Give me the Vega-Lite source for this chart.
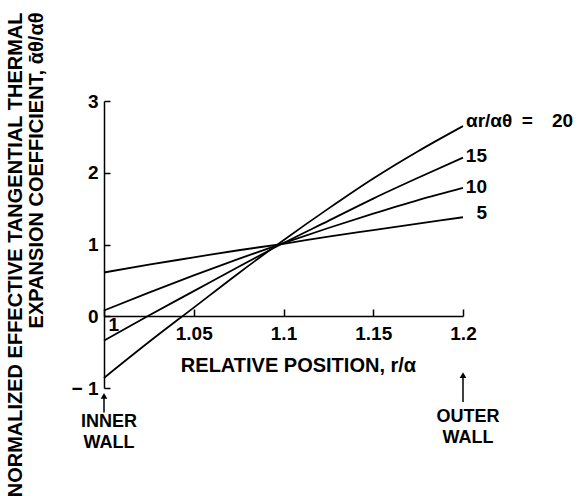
{
  "$schema": "https://vega.github.io/schema/vega-lite/v6.json",
  "width": 359,
  "height": 287,
  "autosize": "none",
  "padding": {"left": 104, "top": 101, "right": 121, "bottom": 108},
  "background": "white",
  "config": {
    "view": {"stroke": null},
    "font": "Liberation Sans",
    "axis": {
      "grid": false,
      "domainColor": "black",
      "domainWidth": 1.5,
      "tickColor": "black",
      "tickWidth": 1.5,
      "labelColor": "black",
      "labelFont": "Liberation Sans",
      "labelFontSize": 19,
      "labelFontWeight": "bold",
      "titleColor": "black",
      "titleFont": "Liberation Sans",
      "titleFontSize": 20,
      "titleFontWeight": "bold"
    }
  },
  "datasets": {
    "curves": [
      {"ratio": 20, "r": 1.0, "v": -0.86}, {"ratio": 20, "r": 1.025, "v": -0.36}, {"ratio": 20, "r": 1.05, "v": 0.12}, {"ratio": 20, "r": 1.075, "v": 0.6}, {"ratio": 20, "r": 1.1, "v": 1.06}, {"ratio": 20, "r": 1.125, "v": 1.5}, {"ratio": 20, "r": 1.15, "v": 1.92}, {"ratio": 20, "r": 1.175, "v": 2.3}, {"ratio": 20, "r": 1.2, "v": 2.65},
      {"ratio": 15, "r": 1.0, "v": -0.34}, {"ratio": 15, "r": 1.025, "v": 0.01}, {"ratio": 15, "r": 1.05, "v": 0.35}, {"ratio": 15, "r": 1.075, "v": 0.69}, {"ratio": 15, "r": 1.1, "v": 1.02}, {"ratio": 15, "r": 1.125, "v": 1.33}, {"ratio": 15, "r": 1.15, "v": 1.64}, {"ratio": 15, "r": 1.175, "v": 1.93}, {"ratio": 15, "r": 1.2, "v": 2.21},
      {"ratio": 10, "r": 1.0, "v": 0.08}, {"ratio": 10, "r": 1.025, "v": 0.33}, {"ratio": 10, "r": 1.05, "v": 0.57}, {"ratio": 10, "r": 1.075, "v": 0.8}, {"ratio": 10, "r": 1.1, "v": 1.02}, {"ratio": 10, "r": 1.125, "v": 1.23}, {"ratio": 10, "r": 1.15, "v": 1.43}, {"ratio": 10, "r": 1.175, "v": 1.62}, {"ratio": 10, "r": 1.2, "v": 1.79},
      {"ratio": 5, "r": 1.0, "v": 0.61}, {"ratio": 5, "r": 1.025, "v": 0.72}, {"ratio": 5, "r": 1.05, "v": 0.82}, {"ratio": 5, "r": 1.075, "v": 0.92}, {"ratio": 5, "r": 1.1, "v": 1.01}, {"ratio": 5, "r": 1.125, "v": 1.11}, {"ratio": 5, "r": 1.15, "v": 1.2}, {"ratio": 5, "r": 1.175, "v": 1.29}, {"ratio": 5, "r": 1.2, "v": 1.38}
    ],
    "labels": [
      {"r": 1.2, "v": 2.72, "label": "αr/αθ\u2002=\u200320", "align": "left"},
      {"r": 1.2, "v": 2.23, "label": "15", "align": "right"},
      {"r": 1.2, "v": 1.8, "label": "10", "align": "right"},
      {"r": 1.2, "v": 1.44, "label": "5", "align": "right"}
    ],
    "walls": [
      {"r": 1.0, "top": -1.11, "bot": -1.34, "text": -1.47, "label": "INNER\nWALL"},
      {"r": 1.2, "top": -0.82, "bot": -1.195, "text": -1.41, "label": "OUTER\nWALL"}
    ]
  },
  "layer": [
    {
      "data": {"name": "curves"},
      "mark": {"type": "line", "color": "black", "strokeWidth": 1.8, "interpolate": "monotone"},
      "encoding": {
        "x": {
          "field": "r", "type": "quantitative",
          "scale": {"domain": [1, 1.2], "nice": false, "zero": false},
          "axis": {
            "values": [1, 1.05, 1.1, 1.15, 1.2],
            "format": "~g",
            "offset": -72,
            "tickSize": -7,
            "labelFlush": false,
            "labelAlign": {"expr": "datum.value == 1 ? 'left' : 'center'"},
            "labelOffset": {"expr": "datum.value == 1 ? 4 : 0"},
            "labelPadding": {"expr": "datum.value == 1 ? 6 : 15"},
            "title": "RELATIVE POSITION, r/α",
            "titleX": 194,
            "titleY": 55,
            "titleAlign": "center",
            "titleBaseline": "alphabetic"
          }
        },
        "y": {
          "field": "v", "type": "quantitative",
          "scale": {"domain": [-1, 3], "nice": false, "zero": false},
          "axis": {
            "values": [-1, 0, 1, 2, 3],
            "tickSize": -6,
            "labelPadding": 12,
            "labelExpr": "datum.value < 0 ? '− 1' : format(datum.value, 'd')",
            "title": ["NORMALIZED EFFECTIVE TANGENTIAL THERMAL", "EXPANSION COEFFICIENT, ᾱθ/αθ"],
            "titleAngle": 270,
            "titleAlign": "right",
            "titleBaseline": "alphabetic",
            "titleX": -83,
            "titleY": -89,
            "titleLineHeight": 21
          }
        },
        "detail": {"field": "ratio", "type": "nominal"}
      }
    },
    {
      "data": {"name": "labels"},
      "transform": [{"filter": "datum.align == 'left'"}],
      "mark": {"type": "text", "align": "left", "baseline": "middle", "dx": 3, "fontSize": 19, "fontWeight": "bold", "color": "black"},
      "encoding": {
        "x": {"field": "r", "type": "quantitative"},
        "y": {"field": "v", "type": "quantitative"},
        "text": {"field": "label"}
      }
    },
    {
      "data": {"name": "labels"},
      "transform": [{"filter": "datum.align == 'right'"}],
      "mark": {"type": "text", "align": "right", "baseline": "middle", "dx": 24, "fontSize": 19, "fontWeight": "bold", "color": "black"},
      "encoding": {
        "x": {"field": "r", "type": "quantitative"},
        "y": {"field": "v", "type": "quantitative"},
        "text": {"field": "label"}
      }
    },
    {
      "data": {"name": "walls"},
      "mark": {"type": "rule", "color": "black", "strokeWidth": 1.5},
      "encoding": {
        "x": {"field": "r", "type": "quantitative"},
        "y": {"field": "top", "type": "quantitative"},
        "y2": {"field": "bot"}
      }
    },
    {
      "data": {"name": "walls"},
      "mark": {"type": "point", "shape": "triangle-up", "filled": true, "color": "black", "size": 45, "opacity": 1},
      "encoding": {
        "x": {"field": "r", "type": "quantitative"},
        "y": {"field": "top", "type": "quantitative"}
      }
    },
    {
      "data": {"name": "walls"},
      "mark": {"type": "text", "align": "center", "baseline": "middle", "lineBreak": "\n", "lineHeight": 21, "dx": 5, "fontSize": 18, "fontWeight": "bold", "color": "black"},
      "encoding": {
        "x": {"field": "r", "type": "quantitative"},
        "y": {"field": "text", "type": "quantitative"},
        "text": {"field": "label"}
      }
    }
  ]
}
